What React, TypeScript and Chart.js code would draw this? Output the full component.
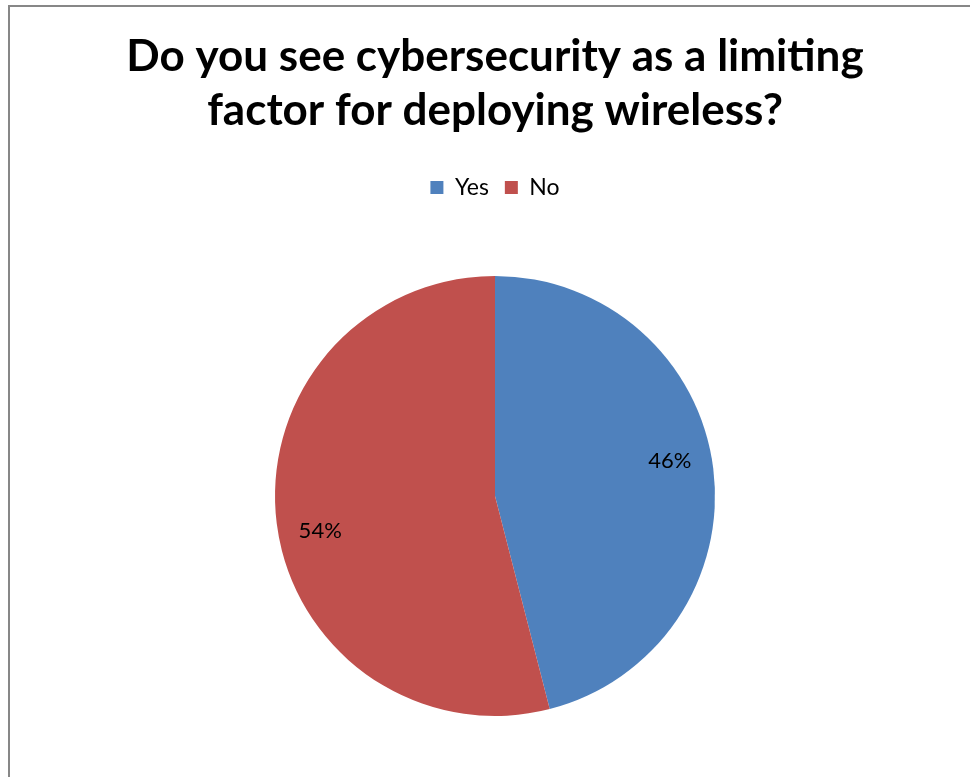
import React, { useEffect, useRef } from "react";
import { Chart, registerables } from "chart.js";

Chart.register(...registerables);

const titleLines = ["Do you see cybersecurity as a limiting", "factor for deploying wireless?"];
const categories = ["Yes", "No"];
const values = [46, 54];
const colors = ["#4F81BD", "#C0504D"];

const FONT = "Lato, 'Open Sans', 'DejaVu Sans', sans-serif";

const pctLabels = {
  id: "pctLabels",
  afterDatasetsDraw(chart: any) {
    const ctx = chart.ctx;
    const meta = chart.getDatasetMeta(0);
    const data = chart.data.datasets[0].data as number[];
    const total = data.reduce((a, b) => a + b, 0);
    ctx.save();
    ctx.font = `22px ${FONT}`;
    ctx.fillStyle = "#000000";
    ctx.textAlign = "center";
    ctx.textBaseline = "middle";
    meta.data.forEach((arc: any, i: number) => {
      const p = arc.getProps(["x", "y", "startAngle", "endAngle", "outerRadius"], true);
      const mid = (p.startAngle + p.endAngle) / 2 - 0.07;
      const r = p.outerRadius * 0.81;
      const x = p.x + Math.cos(mid) * r;
      const y = p.y + Math.sin(mid) * r;
      const pct = Math.round((data[i] / total) * 100) + "%";
      ctx.fillText(pct, x, y);
    });
    ctx.restore();
  },
};

export default function App() {
  const ref = useRef<HTMLCanvasElement | null>(null);
  useEffect(() => {
    if (!ref.current) return;
    const chart = new Chart(ref.current, {
      type: "pie",
      data: {
        labels: categories,
        datasets: [
          {
            data: values,
            backgroundColor: colors,
            borderWidth: 0,
          },
        ],
      },
      options: {
        responsive: false,
        animation: false,
        layout: { padding: { left: 20, right: 0, top: 0, bottom: 61 } },
        plugins: {
          title: {
            display: true,
            text: titleLines,
            color: "#000000",
            font: { family: FONT, size: 44, weight: "bold", lineHeight: "54px" },
            padding: { top: 30, bottom: 22 },
          },
          legend: {
            display: true,
            position: "top",
            labels: {
              color: "#000000",
              font: { family: FONT, size: 23 },
              boxWidth: 13,
              boxHeight: 13,
              padding: 16,
            },
          },
          tooltip: { enabled: false },
        },
      },
      plugins: [
        pctLabels,
        {
          id: "legendHeight",
          beforeInit(c: any) {
            const orig = c.legend && c.legend.fit;
            if (c.legend) {
              c.legend.fit = function () {
                orig.call(this);
                this.height = 116;
              };
            }
          },
        },
      ],
    });
    return () => chart.destroy();
  }, []);

  return (
    <div>
      <canvas
        ref={ref}
        width={970}
        height={777}
        style={{ position: "absolute", left: 0, top: 0, width: 970, height: 777 }}
      />
      <div
        style={{
          position: "absolute",
          left: 8,
          top: 5,
          width: 962,
          height: 772,
          boxSizing: "border-box",
          borderTop: "2px solid #878787",
          borderLeft: "2px solid #878787",
          pointerEvents: "none",
        }}
      />
    </div>
  );
}
